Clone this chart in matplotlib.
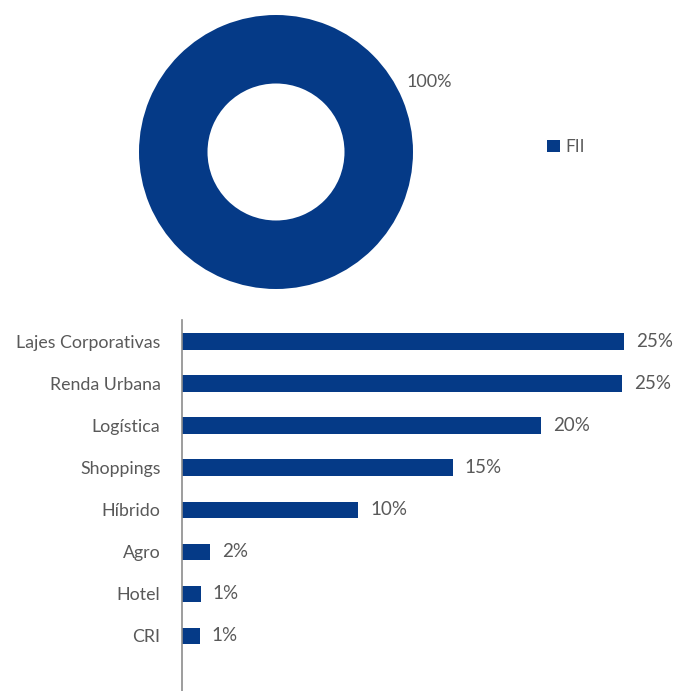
import matplotlib
matplotlib.use("Agg")
import matplotlib.pyplot as plt
from matplotlib.patches import Patch

# Donut data
donut_labels = ["FII"]
donut_values = [100]
donut_text = ["100%"]

# Bar data (top to bottom)
categories = ["Lajes Corporativas", "Renda Urbana", "Logística", "Shoppings",
              "Híbrido", "Agro", "Hotel", "CRI"]
values = [24.96, 24.85, 20.3, 15.3, 9.95, 1.6, 1.07, 1.0]
value_labels = ["25%", "25%", "20%", "15%", "10%", "2%", "1%", "1%"]

BLUE = "#053a87"
TEXT = "#595959"
AXIS = "#8c8c8c"

plt.rcParams["font.family"] = ["Lato", "DejaVu Sans"]

W, H = 675, 691
fig = plt.figure(figsize=(W / 100, H / 100), dpi=100)
fig.patch.set_facecolor("white")

# Donut
cx, cy, r = 276, 152, 137
ax_d = fig.add_axes([(cx - r) / W, 1 - (cy + r) / H, 2 * r / W, 2 * r / H])
wedges, _ = ax_d.pie(donut_values, colors=[BLUE], radius=1.0, startangle=90,
                     wedgeprops=dict(width=0.5, edgecolor="none"))
ax_d.set_xlim(-1, 1)
ax_d.set_ylim(-1, 1)
ax_d.set_aspect("equal")
ax_d.axis("off")
ax_d.text(0.955, 0.51, donut_text[0], fontsize=13, color=TEXT, ha="left", va="center")

handles = [Patch(facecolor=BLUE, edgecolor="none", label=l) for l in donut_labels]
leg = fig.legend(handles=handles, loc="center left", bbox_to_anchor=(547 / W, 1 - 147 / H),
                 frameon=False, fontsize=12.5, handlelength=0.75, handleheight=0.75,
                 handletextpad=0.3, borderpad=0, borderaxespad=0)
for t in leg.get_texts():
    t.set_color(TEXT)

# Bars
x0, x1 = 182, 669
y_top = 320
ax_b = fig.add_axes([x0 / W, 0, (x1 - x0) / W, (H - y_top) / H])
pos = list(range(len(categories)))
ax_b.barh(pos, values, height=0.4, color=BLUE)
ax_b.set_xlim(0, 27.5)
ax_b.set_ylim(8.31, -0.52)
ax_b.set_yticks(pos)
ax_b.set_yticklabels(categories, fontsize=12.8, color=TEXT)
ax_b.tick_params(axis="y", length=0, pad=15.5)
ax_b.set_xticks([])
for s in ("top", "right", "bottom"):
    ax_b.spines[s].set_visible(False)
ax_b.spines["left"].set_color(AXIS)
ax_b.spines["left"].set_linewidth(1.2)
for p, v, lab in zip(pos, values, value_labels):
    ax_b.annotate(lab, (v, p), xytext=(8.5, 0), textcoords="offset points",
                  fontsize=13.5, color=TEXT, ha="left", va="center")

fig.savefig("out.png", dpi=100, facecolor="white")
